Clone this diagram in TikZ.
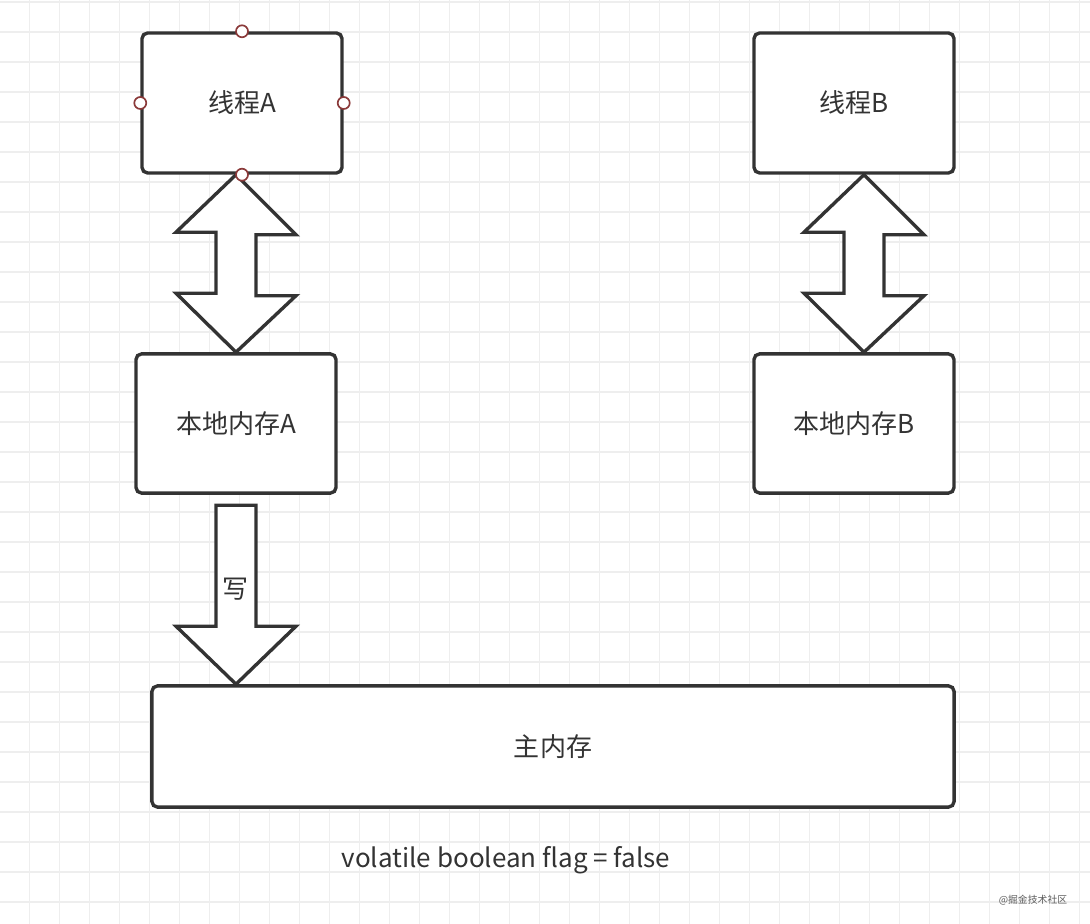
\documentclass[tikz,border=0pt]{standalone}
\usepackage{fontspec}
\setmainfont{Noto Sans CJK SC}
\usepackage{tikz}
\usetikzlibrary{calc}

\definecolor{ink}{HTML}{333333}
\definecolor{gridgray}{HTML}{EEEEEE}
\definecolor{portred}{HTML}{8B3A3A}

\tikzset{
  box/.style={draw=ink, line width=2.4pt, rounded corners=4pt, fill=white,
    text=ink, font=\fontsize{18.5}{21}\selectfont, inner sep=0pt},
  blockarrow/.style={draw=ink, line width=2.4pt, fill=white, line join=miter},
  port/.style={draw=portred, fill=white, line width=1.2pt}
}

\begin{document}
\begin{tikzpicture}[x=0.025cm, y=-0.025cm]
        \useasboundingbox (0,0) rectangle (1090,924);
        \fill[white] (0,0) rectangle (1090,924);
        % grid
        \foreach \gx in {0,...,35} \draw[gridgray, line width=1.3pt] (29.5+30*\gx,0) -- (29.5+30*\gx,924);
        \foreach \gy in {0,...,30} \draw[gridgray, line width=1.3pt] (0,2+30*\gy) -- (1090,2+30*\gy);

        \node[box, minimum width=5cm, minimum height=3.5cm] (threadA) at (242,103) {线程A};
        \node[box, minimum width=5cm, minimum height=3.5cm] (threadB) at (854,103) {线程B};
        \node[box, minimum width=5cm, minimum height=3.48cm] (localA) at (236,423.5) {本地内存A};
        \node[box, minimum width=5cm, minimum height=3.48cm] (localB) at (854,423.5) {本地内存B};
        \node[box, minimum width=20.05cm, minimum height=3.03cm] (mainMem) at (553,746.5) {主内存};

        % double arrows
        \coordinate (tA) at (localA.north |- threadA.south);
        \coordinate (bA) at (localA.north);
        \draw[blockarrow] (tA) -- ++(60,60) -- ++(-40,0) -- ++(0,61) -- ++(40,0) -- (bA)
            -- ++(-60,-59) -- ++(40,0) -- ++(0,-61) -- ++(-40,0) -- cycle;
        \coordinate (tB) at ($(threadB.south)+(10,0)$);
        \coordinate (bB) at ($(localB.north)+(10,0)$);
        \draw[blockarrow] (tB) -- ++(60,60) -- ++(-40,0) -- ++(0,61) -- ++(40,0) -- (bB)
            -- ++(-60,-59) -- ++(40,0) -- ++(0,-61) -- ++(-40,0) -- cycle;

        % write arrow
        \coordinate (wTip) at (localA.south |- mainMem.north);
        \draw[blockarrow] (wTip) -- ++(-60,-58) -- ++(40,0) -- ++(0,-121) -- ++(40,0)
            -- ++(0,121) -- ++(40,0) -- cycle;
        \node[text=ink, font=\fontsize{18.5}{21}\selectfont] (write) at (236,589) {写};

        % ports
        \foreach \a in {north,south,east,west} \draw[port] (threadA.\a) circle (6);

        \node[text=ink, font=\fontsize{18.5}{21}\selectfont] (flag) at (506,860) {volatile boolean flag = false};
        \node[text=ink!80, font=\fontsize{7}{8}\selectfont] (mark) at (1033,900) {@掘金技术社区};
    \end{tikzpicture}
\end{document}
